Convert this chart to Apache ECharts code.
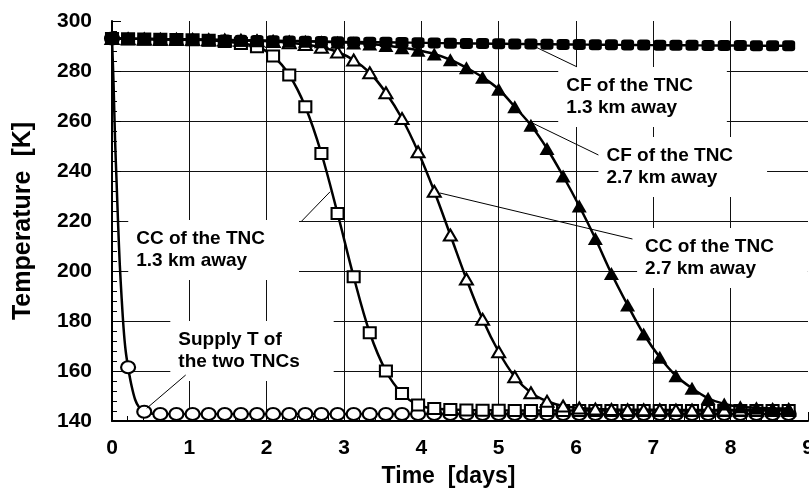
<!DOCTYPE html>
<html><head><meta charset="utf-8">
<script src="https://cdn.jsdelivr.net/npm/echarts@6/dist/echarts.min.js"></script>
<style>html,body{margin:0;padding:0;background:#fff}#c{width:809px;height:489px}</style>
</head><body><div id="c"></div>
<script>
// ---- data ----
const xTickValues = [0,1,2,3,4,5,6,7,8,9];
const yTickValues = [140,160,180,200,220,240,260,280,300];
const xAxisTitle = 'Time  [days]';
const yAxisTitle = 'Temperature  [K]';

// marker times (days)
const timeDays = [0,0.208,0.417,0.625,0.833,1.042,1.25,1.458,1.667,1.875,2.083,2.292,2.5,2.708,2.917,3.125,3.333,3.542,3.75,3.958,4.167,4.375,4.583,4.792,5,5.208,5.417,5.625,5.833,6.042,6.25,6.458,6.667,6.875,7.083,7.292,7.5,7.708,7.917,8.125,8.333,8.542,8.75];

// Supply T of the two TNCs (circles)
const supplyMarkers = [293,161.5,143.7,142.8,142.8,142.8,142.8,142.8,142.8,142.8,142.8,142.8,142.8,142.8,142.8,142.8,142.8,142.8,142.8,142.8,142.8,142.8,142.8,142.8,142.8,142.8,142.8,142.8,142.8,142.8,142.8,142.8,142.8,142.8,142.8,142.8,142.8,142.8,142.8,142.8,142.8,142.8,142.8];
const supplyCurveT = [0,0.02,0.04,0.06,0.08,0.1,0.125,0.15,0.175,0.208,0.25,0.3,0.35,0.417,0.5,0.625,8.75];
const supplyCurveK = [293,275,252,235,218,203,189,177,168.5,161.5,154.5,148.5,145.5,143.7,143.0,142.8,142.8];

// CC of the TNC 1.3 km away (hollow squares)
const cc13 = [293.0,292.9,292.8,292.7,292.6,292.5,292.3,291.8,291.0,289.7,286.0,278.4,265.7,247.0,223.0,197.7,175.3,160.0,151.0,146.4,145.0,144.6,144.4,144.3,144.3,144.2,144.2,144.2,144.2,144.2,144.2,144.2,144.2,144.2,144.2,144.2,144.2,144.2,144.2,144.2,144.2,144.2,144.2];
// CC of the TNC 2.7 km away (hollow triangles)
const cc27 = [293.0,292.9,292.8,292.7,292.7,292.6,292.5,292.4,292.3,292.1,291.8,291.3,290.6,289.5,287.6,284.4,279.3,271.3,261.0,247.7,231.9,214.4,196.8,180.7,167.7,157.7,151.3,147.9,146.0,145.2,144.8,144.6,144.5,144.5,144.5,144.4,144.4,144.4,144.4,144.4,144.4,144.4,144.4];
// CF of the TNC 2.7 km away (filled triangles)
const cf27 = [293.0,292.9,292.8,292.7,292.7,292.6,292.5,292.4,292.3,292.2,292.1,292.0,291.9,291.7,291.5,291.2,290.8,290.2,289.3,288.3,286.8,284.5,281.3,277.5,272.7,265.7,258.3,249.0,238.0,226.0,213.0,199.0,186.4,174.8,165.5,158.1,153.1,149.1,146.8,145.7,145.3,145.0,145.0];
// CF of the TNC 1.3 km away (filled squares)
const cf13 = [293.0,292.9,292.8,292.7,292.7,292.6,292.5,292.4,292.3,292.2,292.1,292.0,291.9,291.8,291.7,291.6,291.5,291.5,291.4,291.3,291.2,291.1,291.0,291.0,290.9,290.8,290.8,290.7,290.6,290.6,290.5,290.5,290.4,290.4,290.3,290.3,290.3,290.2,290.2,290.2,290.1,290.1,290.1];

// annotation texts
const annotationTexts = [
  'CF of the TNC\n1.3 km away',
  'CF of the TNC\n2.7 km away',
  'CC of the TNC\n2.7 km away',
  'CC of the TNC\n1.3 km away',
  'Supply T of\nthe two TNCs'
];

// ---- layout (not data) ----
const annotationLayout = [
  {box:[5.77,281.6], from:[5.37,291.2], to:[6.01,281.7]},
  {box:[6.29,253.6], from:[5.41,259.6], to:[6.29,246.4]},
  {box:[6.79,217.2], from:[4.24,231.2], to:[6.73,212.8]},
  {box:[0.21,220.4], from:[2.82,231.7], to:[2.454,220.0]},
  {box:[0.754,180.0], from:[0.449,145.1], to:[0.953,158.4]}
];

const FONT = '"Liberation Sans", Arial, Helvetica, sans-serif';
const pairs = (xs, ys) => xs.map((x, i) => [x, ys[i]]);

const chart = echarts.init(document.getElementById('c'), null, {renderer:'canvas'});

const axisCommon = {
  type:'value',
  axisLine:{show:true, onZero:false, lineStyle:{color:'#000', width:2}},
  axisTick:{show:true, inside:true, length:9, lineStyle:{color:'#000', width:1}},
  minorTick:{show:true, splitNumber:5, length:5, lineStyle:{color:'#000', width:1}},
  splitLine:{show:true, showMinLine:false, showMaxLine:false, lineStyle:{color:'#111', width:1}},
  axisLabel:{color:'#000', fontFamily:FONT, fontWeight:'bold', fontSize:21}
};

const lineSeries = (name, data, symbol, size, filled, z) => ({
  name, type:'line', data, z,
  smooth:0.35,
  symbol, symbolSize:size,
  showAllSymbol:true,
  lineStyle:{color:'#000', width:2.5},
  itemStyle:{color: filled ? '#000' : '#fff', borderColor:'#000', borderWidth: filled ? 0 : 2, opacity:1},
  emphasis:{disabled:true},
  animation:false
});

const option = {
  animation:false,
  backgroundColor:'#fff',
  grid:{left:112, top:21, width:696, height:400, containLabel:false, outerBoundsMode:'none'},
  xAxis:Object.assign({}, axisCommon, {
    min:xTickValues[0], max:xTickValues[xTickValues.length-1], interval:xTickValues[1]-xTickValues[0],
    name:xAxisTitle, nameLocation:'middle', nameGap:44,
    nameTextStyle:{color:'#000', fontFamily:FONT, fontWeight:'bold', fontSize:23, padding:[0,23,0,0]},
    axisLabel:Object.assign({}, axisCommon.axisLabel, {margin:17})
  }),
  yAxis:Object.assign({}, axisCommon, {
    min:yTickValues[0], max:yTickValues[yTickValues.length-1], interval:yTickValues[1]-yTickValues[0],
    name:yAxisTitle, nameLocation:'middle', nameGap:76,
    nameTextStyle:{color:'#000', fontFamily:FONT, fontWeight:'bold', fontSize:25},
    axisLabel:Object.assign({}, axisCommon.axisLabel, {margin:20})
  }),
  series:[
    {name:'Supply T curve', type:'line', data:pairs(supplyCurveT, supplyCurveK), z:2, smooth:0.3,
     symbol:'none', lineStyle:{color:'#000', width:2.5}, emphasis:{disabled:true}, animation:false},
    {name:'Supply T of the two TNCs', type:'scatter', data:pairs(timeDays, supplyMarkers), z:3,
     symbol:'circle', symbolSize:[14,12],
     itemStyle:{color:'#fff', borderColor:'#000', borderWidth:2, opacity:1},
     emphasis:{disabled:true}, animation:false},
    lineSeries('CC of the TNC 1.3 km away', pairs(timeDays, cc13), 'rect', [12,11], false, 4),
    lineSeries('CC of the TNC 2.7 km away', pairs(timeDays, cc27), 'triangle', [13,11], false, 5),
    lineSeries('CF of the TNC 2.7 km away', pairs(timeDays, cf27), 'triangle', [15,13], true, 6),
    lineSeries('CF of the TNC 1.3 km away', pairs(timeDays, cf13), 'roundRect', [13,11], true, 7)
  ]
};
chart.setOption(option);

// annotations placed through the chart's own coordinate system
const toPx = p => chart.convertToPixel({gridIndex:0}, p);
const graphics = [];
annotationLayout.forEach((a, i) => {
  const b = toPx(a.box), f = toPx(a.from), t = toPx(a.to);
  graphics.push({
    type:'text', x:b[0], y:b[1], z:1, silent:true,
    style:{text:annotationTexts[i], fill:'#000', fontFamily:FONT, fontWeight:'bold', fontSize:19,
      lineHeight:22, backgroundColor:'#fff', padding:[8,34,8,8], align:'left', verticalAlign:'top'}
  });
  graphics.push({
    type:'line', z:8, silent:true,
    shape:{x1:f[0], y1:f[1], x2:t[0], y2:t[1]},
    style:{stroke:'#000', lineWidth:1}
  });
});
chart.setOption({graphic:graphics});
</script></body></html>
